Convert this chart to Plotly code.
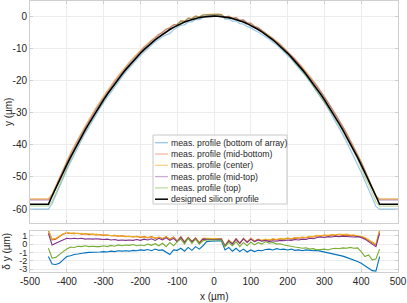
import numpy as np
import plotly.graph_objects as go

# ---------------- data ----------------
x_grid = list(range(-450, 451, 10))          # µm, sampling of the profiles
x_edge = [-500, 500]                          # µm, flat surroundings

# designed silicon profile, 0..450 µm (symmetric about 0)
designed_half = [0.00, -0.03, -0.12, -0.26, -0.46, -0.72, -1.04, -1.42, -1.85, -2.34,
                 -2.89, -3.50, -4.16, -4.88, -5.66, -6.50, -7.40, -8.35, -9.36, -10.43,
                 -11.56, -12.74, -13.98, -15.28, -16.64, -18.06, -19.53, -21.06, -22.65, -24.30,
                 -26.00, -27.76, -29.58, -31.46, -33.40, -35.39, -37.44, -39.55, -41.72, -43.94,
                 -46.22, -48.56, -50.96, -53.42, -55.93, -58.50]

# deviations δy (µm) of the measured profiles, x = -450..450 step 10
d_bottom = [-1.5, -2.4, -2.45, -2.3, -1.9, -1.5, -1.4, -1.25, -1.2, -1.1,
            -1.05, -1.0, -1.0, -0.95, -0.95, -0.9, -0.95, -0.85, -0.9, -0.8,
            -0.85, -0.8, -0.85, -0.75, -0.8, -0.7, -0.75, -0.65, -0.8, -0.6,
            -0.75, -0.7, -0.95, -1.25, -0.7, -0.75, -0.5, -0.85, -0.4, -0.75,
            -0.3, -0.6, -0.2, 0.3, 0.35, 0.35, 0.4, 0.4, -0.7, -0.4,
            -0.85, -0.5, -0.9, -0.6, -0.95, -0.7, -0.9, -0.75, -0.8, -0.65,
            -0.6, -0.7, -0.55, -0.65, -0.6, -0.7, -0.6, -0.75, -0.7, -0.8,
            -0.7, -0.75, -0.8, -0.75, -0.85, -0.9, -1.0, -1.1, -1.2, -1.3,
            -1.45, -1.6, -1.75, -1.9, -2.1, -2.3, -2.6, -2.9, -3.2, -3.25,
            -1.5]
d_midbottom = [1.6, 0.5, 0.6, 0.9, 1.2, 1.35, 1.3, 1.25, 1.3, 1.2,
               1.25, 1.15, 1.2, 1.1, 1.15, 1.05, 1.1, 1.0, 1.05, 0.95,
               1.0, 0.9, 0.95, 0.85, 0.95, 0.8, 0.9, 0.75, 0.9, 0.7,
               0.85, 0.65, 0.9, 0.55, 0.85, 0.35, 0.9, 0.25, 0.8, 0.3,
               0.75, 0.15, 0.65, 0.6, 0.6, 0.6, 0.6, 0.6, -0.3, 0.45,
               0.05, 0.65, 0.1, 0.7, 0.25, 0.7, 0.35, 0.6, 0.4, 0.55,
               0.45, 0.6, 0.5, 0.65, 0.55, 0.7, 0.6, 0.75, 0.7, 0.8,
               0.75, 0.9, 0.85, 1.0, 0.95, 1.05, 1.0, 1.1, 1.05, 1.15,
               1.05, 1.1, 1.0, 1.05, 0.95, 0.9, 0.7, 0.4, 0.1, -0.1,
               1.6]
d_center = [1.7, 0.6, 0.7, 1.0, 1.25, 1.4, 1.3, 1.35, 1.25, 1.3,
            1.2, 1.25, 1.15, 1.2, 1.1, 1.1, 1.05, 1.05, 1.0, 1.0,
            0.95, 0.95, 0.9, 0.9, 0.9, 0.85, 0.85, 0.8, 0.85, 0.75,
            0.8, 0.7, 0.85, 0.6, 0.8, 0.4, 0.85, 0.3, 0.8, 0.35,
            0.7, 0.2, 0.7, 0.7, 0.7, 0.7, 0.7, 0.65, -0.2, 0.5,
            0.1, 0.6, 0.15, 0.65, 0.3, 0.65, 0.4, 0.55, 0.45, 0.6,
            0.5, 0.65, 0.55, 0.7, 0.6, 0.75, 0.65, 0.8, 0.75, 0.85,
            0.8, 0.95, 0.9, 1.05, 1.0, 1.1, 1.05, 1.15, 1.1, 1.2,
            1.15, 1.2, 1.1, 1.1, 1.0, 0.95, 0.8, 0.5, 0.2, 0.0,
            1.7]
d_midtop = [1.3, -0.1, 0.1, 0.3, 0.55, 0.7, 0.65, 0.7, 0.65, 0.7,
            0.6, 0.65, 0.6, 0.65, 0.6, 0.55, 0.6, 0.5, 0.55, 0.45,
            0.5, 0.45, 0.5, 0.45, 0.55, 0.45, 0.6, 0.5, 0.65, 0.45,
            0.7, 0.5, 0.75, 0.45, 0.7, 0.3, 0.8, 0.2, 0.75, 0.3,
            0.7, 0.1, 0.6, 0.55, 0.55, 0.55, 0.55, 0.6, -0.2, 0.4,
            0.0, 0.6, 0.1, 0.65, 0.2, 0.6, 0.3, 0.5, 0.35, 0.45,
            0.3, 0.4, 0.35, 0.45, 0.4, 0.5, 0.45, 0.55, 0.5, 0.6,
            0.55, 0.7, 0.65, 0.8, 0.85, 0.8, 0.9, 0.85, 0.95, 0.9,
            0.95, 0.9, 0.9, 0.85, 0.9, 0.8, 0.6, 0.3, 0.0, -0.3,
            1.3]
d_top = [-0.5, -1.7, -1.6, -1.2, -0.9, -0.6, -0.35, -0.4, -0.25, -0.3,
         -0.2, -0.3, -0.25, -0.3, -0.3, -0.2, -0.3, -0.15, -0.25, -0.1,
         -0.2, -0.1, -0.15, -0.05, -0.2, -0.1, -0.2, 0.0, -0.15, 0.05,
         -0.2, 0.1, -0.3, 0.2, -0.2, 0.3, 0.6, 0.0, 0.7, 0.1,
         0.6, 0.0, 0.4, 0.5, 0.5, 0.5, 0.5, 0.5, -0.3, 0.2,
         -0.2, 0.3, -0.3, 0.2, -0.2, 0.25, -0.1, 0.2, 0.0, 0.3,
         0.1, 0.2, 0.0, 0.05, -0.1, -0.2, -0.3, -0.35, -0.4, -0.5,
         -0.45, -0.6, -0.55, -0.7, -0.65, -0.6, -0.7, -0.55, -0.5, -0.55,
         -0.45, -0.5, -0.4, -0.5, -0.45, -0.9, -1.5, -1.3, -1.9, -1.8,
         -0.6]

series_names = ["meas. profile (bottom of array)", "meas. profile (mid-bottom)",
                "meas. profile (center)", "meas. profile (mid-top)", "meas. profile (top)"]
series_devs = [d_bottom, d_midbottom, d_center, d_midtop, d_top]
designed_name = "designed silicon profile"

x_ticks = [-500, -400, -300, -200, -100, 0, 100, 200, 300, 400, 500]
x_ticktext = ["-500", "-400", "-300", "-200", "-100", "0", "100", "200", "300", "400", "500"]
y_ticks_top = [0, -10, -20, -30, -40, -50, -60]
y_ticktext_top = ["0", "-10", "-20", "-30", "-40", "-50", "-60"]
y_ticks_bot = [1, 0, -1, -2, -3]
y_ticktext_bot = ["1", "0", "-1", "-2", "-3"]

# ---------------- styling ----------------
colors = ["#0072BD", "#D95319", "#EDB120", "#7E2F8E", "#77AC30"]
pale = ["rgba(0,114,189,0.40)", "rgba(217,83,25,0.40)", "rgba(237,177,32,0.55)",
        "rgba(126,47,142,0.40)", "rgba(119,172,48,0.45)"]
FONT = "Liberation Sans, Arial, Helvetica, sans-serif"
TXT = "#262626"
AX = "#cfcfcf"
GRID = "#ececec"

designed = designed_half[::-1] + designed_half[1:]
xs = np.array(x_grid, dtype=float)
dz = np.array(designed)

fig = go.Figure()

# top panel: measured profiles
for name, dev, pc in zip(series_names, series_devs, pale):
    yv = dz + np.array(dev)
    x_all = [x_edge[0]] + list(xs) + [x_edge[1]]
    y_all = [yv[0]] + list(yv) + [yv[-1]]
    fig.add_trace(go.Scatter(x=x_all, y=y_all, mode="lines", name=name, showlegend=False,
                             line=dict(color=pc, width=1.2), xaxis="x", yaxis="y"))
fig.add_trace(go.Scatter(x=[x_edge[0]] + list(xs) + [x_edge[1]],
                         y=[dz[0]] + list(dz) + [dz[-1]], mode="lines", name=designed_name,
                         showlegend=False,
                         line=dict(color="black", width=1.6), xaxis="x", yaxis="y"))

# bottom panel: deviations
for name, dev, c in zip(series_names, series_devs, colors):
    fig.add_trace(go.Scatter(x=x_grid, y=dev, mode="lines", name=name, showlegend=False,
                             line=dict(color=c, width=1.1), xaxis="x2", yaxis="y2"))

axis_common = dict(showline=True, linecolor=AX, linewidth=1, mirror="ticks",
                   ticks="inside", ticklen=3, tickcolor=AX, gridcolor=GRID,
                   zeroline=False, tickfont=dict(family=FONT, size=10, color=TXT))

# ---- hand-built compact legend (box, line samples, labels) ----
L, R, T, B = 30, 398, 1, 272            # plot area in page pixels
def px(xp): return (xp - L) / (R - L)
def py(yp): return (B - yp) / (B - T)

leg_names = series_names + [designed_name]
leg_colors = pale + ["black"]
leg_widths = [1.3] * 5 + [1.5]
row_y = [142.7, 154.0, 165.3, 176.6, 187.9, 199.2]

shapes = [dict(type="rect", xref="paper", yref="paper", x0=px(153), x1=px(287),
               y0=py(204), y1=py(135), fillcolor="white",
               line=dict(color="#c8c8c8", width=1), layer="above")]
annotations = []
for nm, c, w, ry in zip(leg_names, leg_colors, leg_widths, row_y):
    shapes.append(dict(type="line", xref="paper", yref="paper", x0=px(155), x1=px(168),
                       y0=py(ry), y1=py(ry), line=dict(color=c, width=w), layer="above"))
    annotations.append(dict(text=nm, xref="paper", yref="paper", x=px(169), y=py(ry),
                            xanchor="left", yanchor="middle", showarrow=False,
                            font=dict(family=FONT, size=8.7, color=TXT)))

annotations += [
    dict(text="x (µm)", xref="paper", yref="paper", x=0.5, y=0, yshift=-24,
         xanchor="center", yanchor="middle", showarrow=False,
         font=dict(family=FONT, size=10, color=TXT)),
    dict(text="y (µm)", xref="paper", yref="paper", x=0, xshift=-22,
         y=0.59, xanchor="center", yanchor="middle", textangle=-90, showarrow=False,
         font=dict(family=FONT, size=10, color=TXT)),
    dict(text="δ y (µm)", xref="paper", yref="paper", x=0, xshift=-23,
         y=0.075, xanchor="center", yanchor="middle", textangle=-90, showarrow=False,
         font=dict(family=FONT, size=10, color=TXT)),
]

fig.update_layout(
    width=407, height=303,
    margin=dict(l=L, r=407 - R, t=T, b=303 - B),
    paper_bgcolor="white", plot_bgcolor="white",
    font=dict(family=FONT, size=10, color=TXT),
    xaxis=dict(domain=[0, 1], range=[-500, 500], tickvals=x_ticks, showticklabels=False,
               anchor="y", **axis_common),
    yaxis=dict(domain=[0.181, 1], range=[-64.3, 4.7], tickvals=y_ticks_top,
               ticktext=y_ticktext_top, anchor="x", **axis_common),
    xaxis2=dict(domain=[0, 1], range=[-500, 500], tickvals=x_ticks, ticktext=x_ticktext,
                anchor="y2", matches="x", **axis_common),
    yaxis2=dict(domain=[0, 0.151], range=[-3.36, 1.57], tickvals=y_ticks_bot,
                ticktext=y_ticktext_bot, anchor="x2", **axis_common),
    showlegend=False,
    shapes=shapes,
    annotations=annotations,
)
fig.update_yaxes(tickfont=dict(size=9), selector=dict(anchor="x2"))

fig.write_html("out.html", config={"displayModeBar": False},
               post_script="document.body.style.margin='0';document.body.style.padding='0';")
